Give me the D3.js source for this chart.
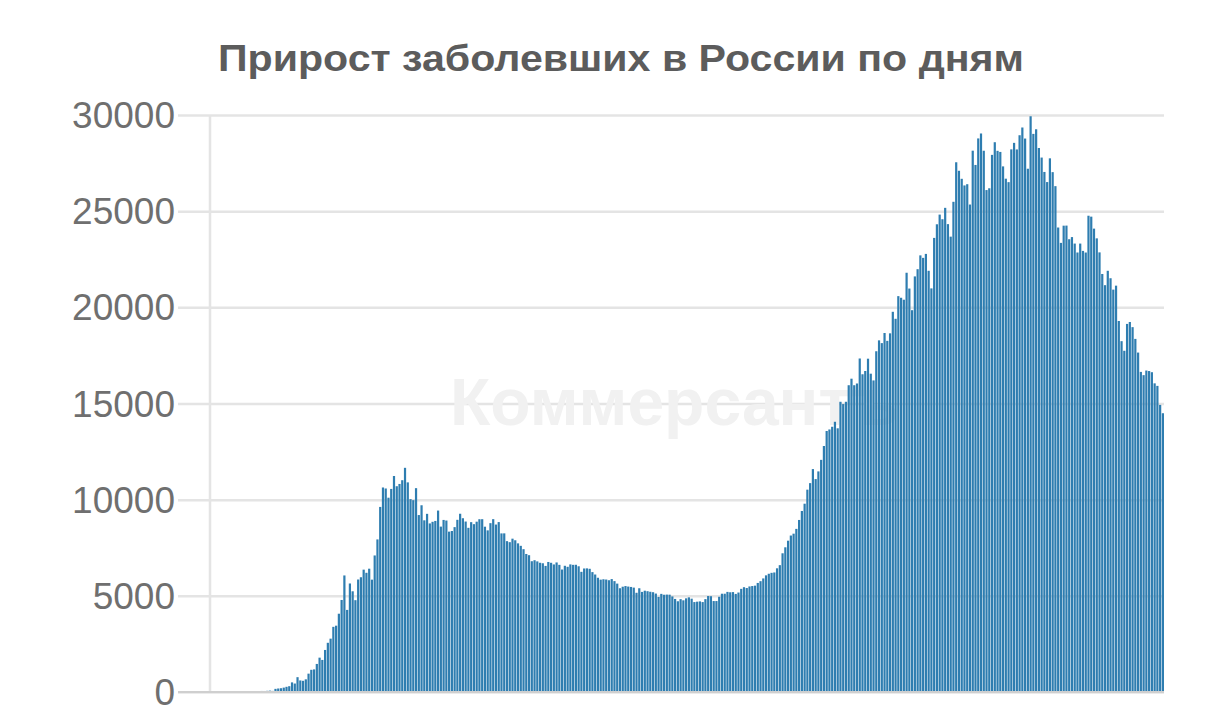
<!DOCTYPE html>
<html>
<head>
<meta charset="utf-8">
<script src="https://cdn.jsdelivr.net/npm/d3@7"></script>
<style>
  body { margin: 0; background: #fff; }
  svg { display: block; }
</style>
</head>
<body>
<svg id="chart" width="1211" height="716"></svg>
<script>
// ---- Data: daily new COVID-19 cases in Russia, 2 Mar 2020 – 10 Feb 2021 ----
const titleText = "Прирост заболевших в России по дням";
const watermarkText = "Коммерсантъ";
const startDate = new Date(2020, 2, 2);
const endDate = new Date(2021, 1, 11); // exclusive

const mar2020 = [1,0,0,1,6,3,4,0,3,8,6,11,14,4,30,21,33,52,54,53,61,71,57,163,182,196,228,270,302,500];
const apr2020 = [440,771,601,582,658,954,1154,1175,1459,1786,1667,2186,2558,2774,3388,3448,4070,4785,6060,4268,5642,5236,4774,5849,5966,6361,6198,6411,5841,7099];
const may2020 = [7933,9623,10633,10581,10102,10559,11231,10699,10817,11012,11656,10899,10028,9974,10598,9200,9709,8926,9263,8764,8849,8894,9434,8599,8946,8915,8338,8371,8572,8952,9268];
const jun2020 = [9035,8863,8536,8831,8726,8855,8984,8985,8595,8404,8779,8987,8706,8835,8246,8248,7843,7790,7972,7889,7728,7600,7425,7176,7113,6800,6852,6791,6719,6693];
const jul2020 = [6556,6760,6718,6632,6736,6611,6368,6562,6509,6635,6611,6615,6537,6248,6422,6428,6406,6234,6109,5940,5842,5862,5848,5811,5871,5765,5635,5395,5475,5509,5482];
const aug2020 = [5462,5427,5159,5394,5204,5267,5241,5212,5189,5118,4945,5102,5057,5065,5061,4969,4839,4718,4828,4767,4870,4921,4852,4676,4696,4711,4676,4829,4990,4980,4729];
const sep2020 = [4729,4952,5110,5110,5205,5185,5195,5099,5172,5363,5449,5406,5488,5509,5529,5670,5762,5905,6065,6148,6196,6215,6431,6595,7212,7523,7867,8135,8232,8481];
const oct2020 = [8945,9412,9790,10520,10860,11590,11070,11470,12070,12790,13570,13650,13790,14050,13710,15090,14970,15090,15950,16290,15950,16040,17340,16520,16690,17330,16550,16200,17717,18283,18140];
const nov2020 = [18665,18257,18648,19768,19404,20582,20498,20396,21798,20977,19851,21608,21983,22702,22572,22778,21900,20985,23610,24318,24822,24581,25173,24326,23675,25487,27543,27100,26683,26338];
const dec2020 = [26402,25345,28145,27403,28782,29039,28142,26097,26190,27927,28585,28137,28080,27328,26689,26509,28214,28552,28209,28948,29350,28776,27206,29935,29018,29258,28284,27787,27039,26513,27747];
const jan2021 = [27029,26301,24150,23351,24246,24250,23541,23652,23315,22851,23315,22934,22850,24763,24715,24092,23586,22857,21734,21152,21900,21513,20921,21127,19290,18241,17741,19138,19238,18970,18359];
const feb2021 = [17648,16643,16474,16714,16688,16627,16048,15916,14928,14494];

const yTicks = [0, 5000, 10000, 15000, 20000, 25000, 30000];

// ---- Build table ----
const values = [].concat(mar2020, apr2020, may2020, jun2020, jul2020, aug2020,
                         sep2020, oct2020, nov2020, dec2020, jan2021, feb2021);
const days = d3.timeDay.range(startDate, endDate);
const data = days.map((d, i) => ({ date: d, value: values[i] }));

// ---- Layout ----
const svg = d3.select("#chart");
const W = 1211, H = 716;
const gridLeft = 178, plotLeft = 210, plotRight = 1164;
const plotTop = 115, plotBottom = 692;
const FONT = "'Liberation Sans', Arial, Helvetica, sans-serif";

svg.append("rect").attr("width", W).attr("height", H).attr("fill", "#fff");

const x = d3.scaleBand()
  .domain(days.map(d => +d))
  .range([plotLeft + 1, plotRight])
  .paddingInner(0.2)
  .paddingOuter(0);

const y = d3.scaleLinear().domain([0, 30000]).range([plotBottom, plotTop]);

// Title
svg.append("text")
  .attr("x", 621).attr("y", 71)
  .attr("text-anchor", "middle")
  .attr("font-family", FONT)
  .attr("font-weight", "bold")
  .attr("font-size", 37)
  .attr("fill", "#5c5c5c")
  .attr("textLength", 806)
  .attr("lengthAdjust", "spacingAndGlyphs")
  .text(titleText);

// Grid + y labels
const yAxis = d3.axisLeft(y)
  .tickValues(yTicks)
  .tickFormat(d3.format("d"))
  .tickSize(-(plotRight - gridLeft))
  .tickPadding(3);

const gy = svg.append("g")
  .attr("transform", `translate(${gridLeft},0)`)
  .call(yAxis);
gy.select(".domain").remove();
gy.selectAll(".tick line")
  .attr("stroke", "#e4e4e4")
  .attr("stroke-width", 2.5);
gy.selectAll(".tick text")
  .attr("font-family", FONT)
  .attr("font-size", 37)
  .attr("fill", "#6f6f6f")
  .attr("dy", "0.34em");

// Vertical axis line
svg.append("line")
  .attr("x1", plotLeft).attr("x2", plotLeft)
  .attr("y1", y(30000)).attr("y2", y(0))
  .attr("stroke", "#e4e4e4").attr("stroke-width", 2.5);

// Watermark
svg.append("text")
  .attr("x", 450).attr("y", 425)
  .attr("font-family", FONT)
  .attr("font-weight", "bold")
  .attr("font-size", 66)
  .attr("fill", "#f1f1f1")
  .text(watermarkText);

// Bars
svg.append("g")
  .selectAll("rect")
  .data(data)
  .join("rect")
  .attr("x", d => x(+d.date))
  .attr("width", x.bandwidth())
  .attr("y", d => y(d.value))
  .attr("height", d => y(0) - y(d.value))
  .attr("fill", "#2e7db0");

// Baseline
svg.append("line")
  .attr("x1", gridLeft).attr("x2", plotRight)
  .attr("y1", y(0)).attr("y2", y(0))
  .attr("stroke", "#cfcfcf").attr("stroke-width", 2);
</script>
</body>
</html>
